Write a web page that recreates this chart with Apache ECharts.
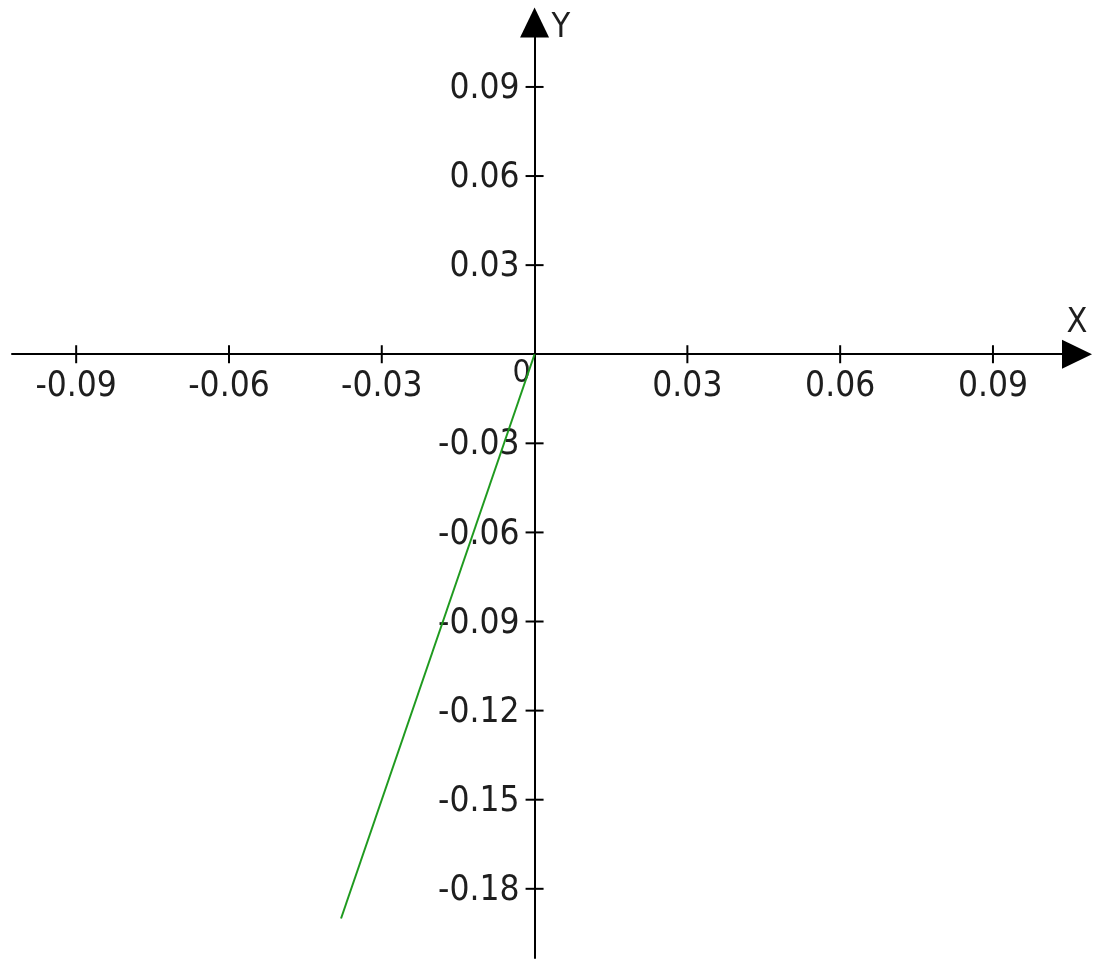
<!DOCTYPE html>
<html>
<head>
<meta charset="utf-8">
<script src="https://cdn.jsdelivr.net/npm/echarts@6/dist/echarts.min.js"></script>
<style>
html,body{margin:0;padding:0;background:#fff;}
#chart{width:1100px;height:966px;}
</style>
</head>
<body>
<div id="chart"></div>
<script>
// ---- data ----
const xTickValues = [-0.09, -0.06, -0.03, 0.03, 0.06, 0.09];
const yTickValues = [0.09, 0.06, 0.03, -0.03, -0.06, -0.09, -0.12, -0.15, -0.18];
const lineX = [0, -0.038];
const lineY = [0, -0.19];
const originLabel = '0';
const xName = 'X';
const yName = 'Y';

const FONT = '"DejaVu Sans Condensed", "DejaVu Sans", sans-serif';
const TXT = '#1e1e1e';
const FS = 35;

const chart = echarts.init(document.getElementById('chart'), null, {renderer: 'canvas'});

const fmt = v => {
  const s = Math.abs(v).toFixed(2);
  return (v < 0 ? '-' : '') + s;
};

chart.setOption({
  animation: false,
  backgroundColor: '#ffffff',
  grid: {left: 12, right: 23, top: 22.5, bottom: 8, containLabel: false, outerBoundsMode: 'none'},
  xAxis: {
    type: 'value',
    min: -0.1026, max: 0.1065,
    name: xName,
    nameLocation: 'end',
    nameGap: 0,
    nameTextStyle: {fontFamily: FONT, fontSize: 34, color: TXT, align: 'center', verticalAlign: 'bottom', padding: [0, 0, 14, 0]},
    axisLine: {onZero: true, lineStyle: {color: '#000', width: 2}, symbol: ['none', 'triangle'], symbolSize: [29, 30]},
    axisTick: {show: false},
    splitLine: {show: false},
    axisLabel: {show: false}
  },
  yAxis: {
    type: 'value',
    min: -0.2033, max: 0.1117,
    name: yName,
    nameLocation: 'end',
    nameGap: -6,
    nameTextStyle: {fontFamily: FONT, fontSize: 34, color: TXT, align: 'left', verticalAlign: 'middle', padding: [16, 0, 0, 17]},
    axisLine: {onZero: true, lineStyle: {color: '#000', width: 2}, symbol: ['none', 'triangle'], symbolSize: [29, 30]},
    axisTick: {show: false},
    splitLine: {show: false},
    axisLabel: {show: false}
  },
  series: [
    {
      type: 'scatter', name: 'xticks',
      data: xTickValues.map(v => [v, 0]),
      symbol: 'rect', symbolSize: [2, 18],
      itemStyle: {color: '#000', opacity: 1},
      label: {show: true, position: 'bottom', distance: 6, formatter: p => fmt(p.value[0]), fontFamily: FONT, fontSize: FS, color: TXT},
      silent: true, z: 3
    },
    {
      type: 'scatter', name: 'yticks',
      data: yTickValues.map(v => [0, v]),
      symbol: 'rect', symbolSize: [18, 2],
      itemStyle: {color: '#000', opacity: 1},
      label: {show: true, position: 'left', distance: 6, offset: [0, 2], formatter: p => fmt(p.value[1]), fontFamily: FONT, fontSize: FS, color: TXT},
      silent: true, z: 3
    },
    {
      type: 'scatter', name: 'origin',
      data: [[0, 0]],
      symbolSize: 0,
      itemStyle: {opacity: 1},
      label: {show: true, formatter: originLabel, position: 'inside', offset: [-13, 19], fontFamily: FONT, fontSize: 32, color: TXT},
      silent: true, z: 2
    },
    {
      type: 'line', name: 'line',
      data: lineX.map((x, i) => [x, lineY[i]]),
      showSymbol: false, symbol: 'none',
      lineStyle: {color: '#1f9a1f', width: 2},
      z: 5
    }
  ]
});
</script>
</body>
</html>
